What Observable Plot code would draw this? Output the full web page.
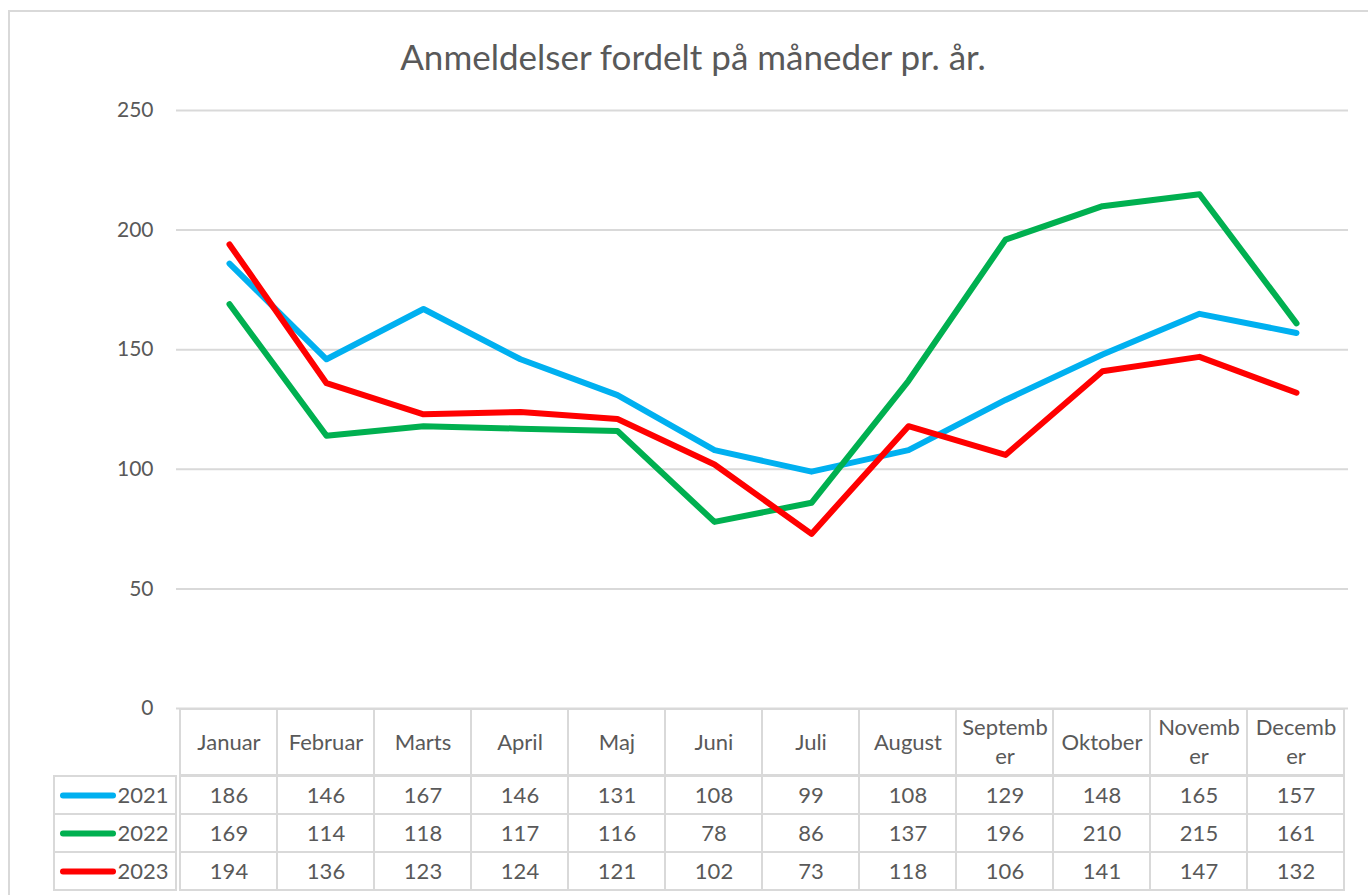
<!DOCTYPE html>
<html>
<head>
<meta charset="utf-8">
<script src="https://cdn.jsdelivr.net/npm/d3@7"></script>
<script src="https://cdn.jsdelivr.net/npm/@observablehq/plot@0.6"></script>
<style>
  html, body { margin: 0; padding: 0; background: #fff; }
  #wrap { position: relative; width: 1368px; height: 895px; overflow: hidden; font-family: Lato, "Open Sans", sans-serif; color: #595959; }
  #frame { position: absolute; left: 8px; top: 10px; width: 1400px; height: 900px; border-left: 2px solid #d9d9d9; border-top: 2px solid #d9d9d9; box-sizing: border-box; }
  #title { position: absolute; left: 0; width: 1386px; top: 35px; text-align: center; font-size: 35px; color: #595959; }
  .abs { position: absolute; left: 0; }
</style>
</head>
<body>
<div id="wrap">
  <div id="frame"></div>
  <div id="title">Anmeldelser fordelt på måneder pr. år.</div>
  <div id="chart" class="abs" style="top:0px"></div>
  <div id="head" class="abs" style="top:709px"></div>
  <div id="legend" class="abs" style="top:775px"></div>
  <div id="body" class="abs" style="top:775px"></div>
</div>
<script>
const months = ["Januar","Februar","Marts","April","Maj","Juni","Juli","August","September","Oktober","November","December"];
const monthLabels = ["Januar","Februar","Marts","April","Maj","Juni","Juli","August","Septemb\ner","Oktober","Novemb\ner","Decemb\ner"];
const years = ["2021","2022","2023"];
const colors = ["#00B0F0","#00B050","#FF0000"];
const v2021 = [186,146,167,146,131,108,99,108,129,148,165,157];
const v2022 = [169,114,118,117,116,78,86,137,196,210,215,161];
const v2023 = [194,136,123,124,121,102,73,118,106,141,147,132];
const yTicks = [0,50,100,150,200,250];

const series = {"2021": v2021, "2022": v2022, "2023": v2023};
const rows = years.flatMap(y => months.map((m, i) => ({year: y, month: m, value: series[y][i]})));
const colorRange = colors;

const baseStyle = {background: "transparent", color: "#595959", fontFamily: "Lato, 'Open Sans', sans-serif", fontSize: "21px", overflow: "visible"};
const grey = "#d9d9d9";
const tableFont = 22;

// Line chart
const chart = Plot.plot({
  width: 1368, height: 712,
  marginLeft: 176, marginRight: 20, marginTop: 110, marginBottom: 4,
  style: baseStyle,
  x: {type: "point", domain: months, padding: 0.5, axis: null},
  y: {domain: [0, 250]},
  color: {domain: years, range: colorRange},
  marks: [
    Plot.gridY(yTicks, {stroke: grey, strokeOpacity: 1, strokeWidth: 2}),
    Plot.axisY(yTicks, {tickSize: 0, tickPadding: 23, label: null, fontSize: 21, fill: "#595959"}),
    Plot.line(rows, {x: "month", y: "value", z: "year", stroke: "year", strokeWidth: 6, strokeLinecap: "round", strokeLinejoin: "round"})
  ]
});
document.getElementById("chart").appendChild(chart);

// Table header
const head = Plot.plot({
  width: 1368, height: 66,
  marginLeft: 176, marginRight: 20, marginTop: 0, marginBottom: 0,
  style: baseStyle,
  x: {type: "band", domain: months, padding: 0, axis: null},
  marks: [
    Plot.cell(months, {x: d => d, fill: "none", stroke: grey, strokeWidth: 2, inset: 0}),
    Plot.text(months, {x: d => d, text: (d, i) => monthLabels[i], fontSize: tableFont, fill: "#595959", lineAnchor: "middle", lineHeight: 1.3, dy: -2})
  ]
});
document.getElementById("head").appendChild(head);

// Legend column
const legend = Plot.plot({
  width: 176, height: 115,
  marginLeft: 54, marginRight: 0, marginTop: 0, marginBottom: 0,
  style: baseStyle,
  y: {type: "band", domain: years, padding: 0, axis: null},
  color: {domain: years, range: colorRange},
  marks: [
    Plot.cell(years, {y: d => d, fill: "none", stroke: grey, strokeWidth: 2, inset: 0}),
    Plot.ruleY(years, {y: d => d, stroke: d => d, strokeWidth: 6, strokeLinecap: "round", insetLeft: 9, insetRight: 63}),
    Plot.text(years, {y: d => d, text: d => d, frameAnchor: "right", textAnchor: "end", dx: -8, fontSize: tableFont, fill: "#595959"})
  ]
});
document.getElementById("legend").appendChild(legend);

// Table body
const body = Plot.plot({
  width: 1368, height: 115,
  marginLeft: 176, marginRight: 20, marginTop: 0, marginBottom: 0,
  style: baseStyle,
  x: {type: "band", domain: months, padding: 0, axis: null},
  y: {type: "band", domain: years, padding: 0, axis: null},
  marks: [
    Plot.cell(rows, {x: "month", y: "year", fill: "none", stroke: grey, strokeWidth: 2, inset: 0}),
    Plot.text(rows, {x: "month", y: "year", text: d => String(d.value), fontSize: tableFont, fill: "#595959"})
  ]
});
document.getElementById("body").appendChild(body);
</script>
</body>
</html>
